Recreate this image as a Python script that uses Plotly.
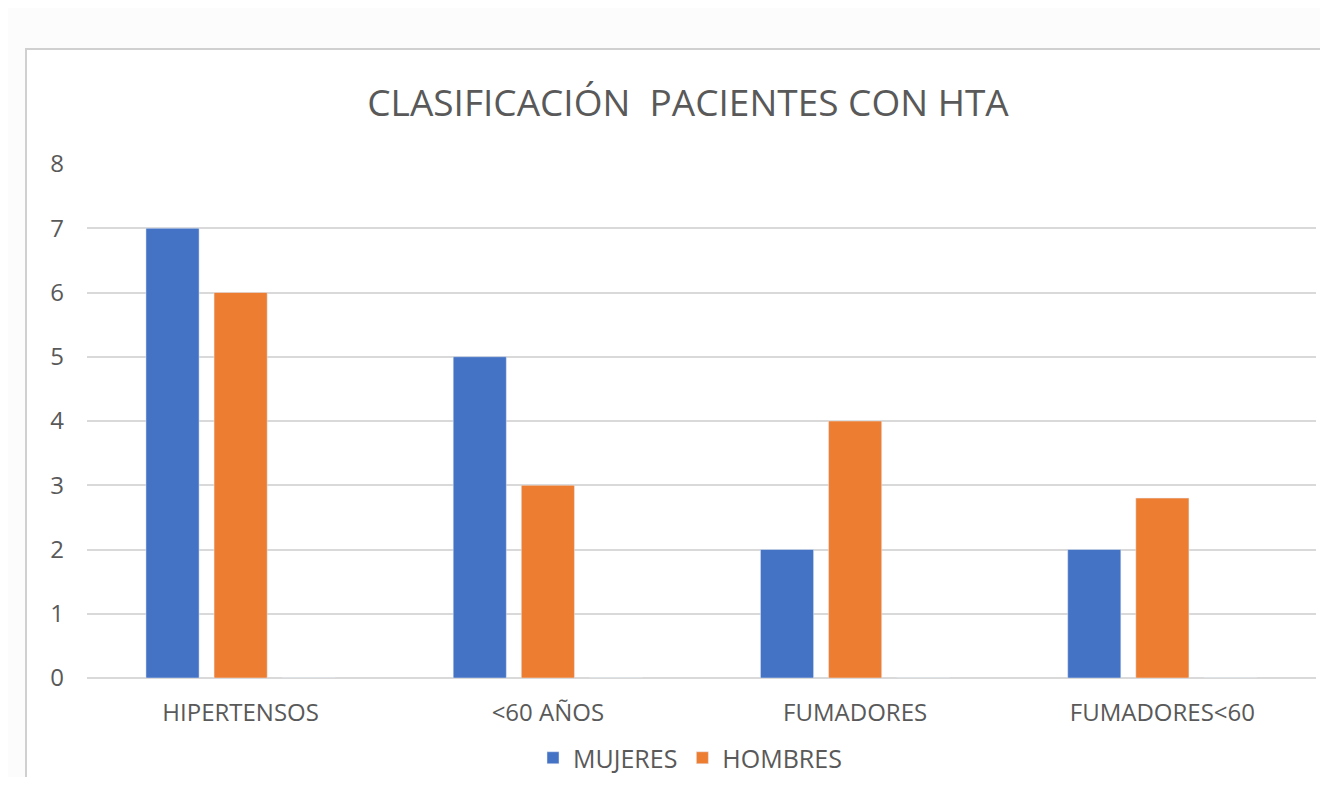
import plotly.graph_objects as go

# datos del gráfico
categorias = ["HIPERTENSOS", "<60 AÑOS", "FUMADORES", "FUMADORES<60"]
mujeres = [7, 5, 2, 2]
hombres = [6, 3, 4, 2.8]
# serie vacía (tercera columna de la tabla original, sin valores)
vacia = [0, 0, 0, 0]

AZUL = "#4472C4"
NARANJA = "#ED7D31"
GRIS_TEXTO = "#595959"
GRIS_REJILLA = "#D9D9D9"
FUENTE = "Open Sans"

fig = go.Figure()
fig.add_trace(go.Bar(x=categorias, y=mujeres, name="MUJERES", marker_color=AZUL))
fig.add_trace(go.Bar(x=categorias, y=hombres, name="HOMBRES", marker_color=NARANJA))
fig.add_trace(go.Bar(x=categorias, y=vacia, name="", marker_color="#A5A5A5",
                     showlegend=False, hoverinfo="skip"))

# la página tiene 8px de margen, así que la figura es algo menor que la ventana
W, H = 1312, 769
ML, MR, MT, MB = 79, 4, 156, 99
PW, PH = W - ML - MR, H - MT - MB

# marco del gráfico (estilo Excel)
fig.add_shape(type="rect", xref="paper", yref="paper",
              x0=(18 - ML) / PW, x1=1.1,
              y0=-0.3, y1=(PH + MT - 41) / PH,
              line=dict(color="#D0D0D0", width=2), fillcolor="white", layer="below")

fig.update_layout(
    width=W, height=H,
    margin=dict(l=ML, r=MR, t=MT, b=MB, autoexpand=False),
    paper_bgcolor="#FCFCFC",
    plot_bgcolor="white",
    barmode="group",
    bargap=0.335,
    bargroupgap=0.22,
    font=dict(family=FUENTE, color=GRIS_TEXTO, size=24),
    title=dict(text="CLASIFICACIÓN  PACIENTES CON HTA", x=(688 - 8) / W, xanchor="center",
               y=1 - 95 / H, yanchor="middle",
               font=dict(family=FUENTE, size=37, color=GRIS_TEXTO)),
    legend=dict(orientation="h", xref="container", x=(690 - 8) / W, xanchor="center",
                yref="container", y=(H - 750) / H, yanchor="middle",
                font=dict(size=25, color=GRIS_TEXTO), itemwidth=30,
                bgcolor="rgba(0,0,0,0)"),
    showlegend=True,
)
fig.update_xaxes(showgrid=False, showline=False, zeroline=False,
                 ticklabelstandoff=18, tickfont=dict(size=24, color=GRIS_TEXTO))
fig.update_yaxes(range=[0, 8], dtick=1, showgrid=True, gridcolor=GRIS_REJILLA, gridwidth=2,
                 zeroline=True, zerolinecolor=GRIS_REJILLA, zerolinewidth=2,
                 showline=False, ticklabelstandoff=22,
                 tickfont=dict(size=24, color=GRIS_TEXTO))

fig.write_html("out.html")
